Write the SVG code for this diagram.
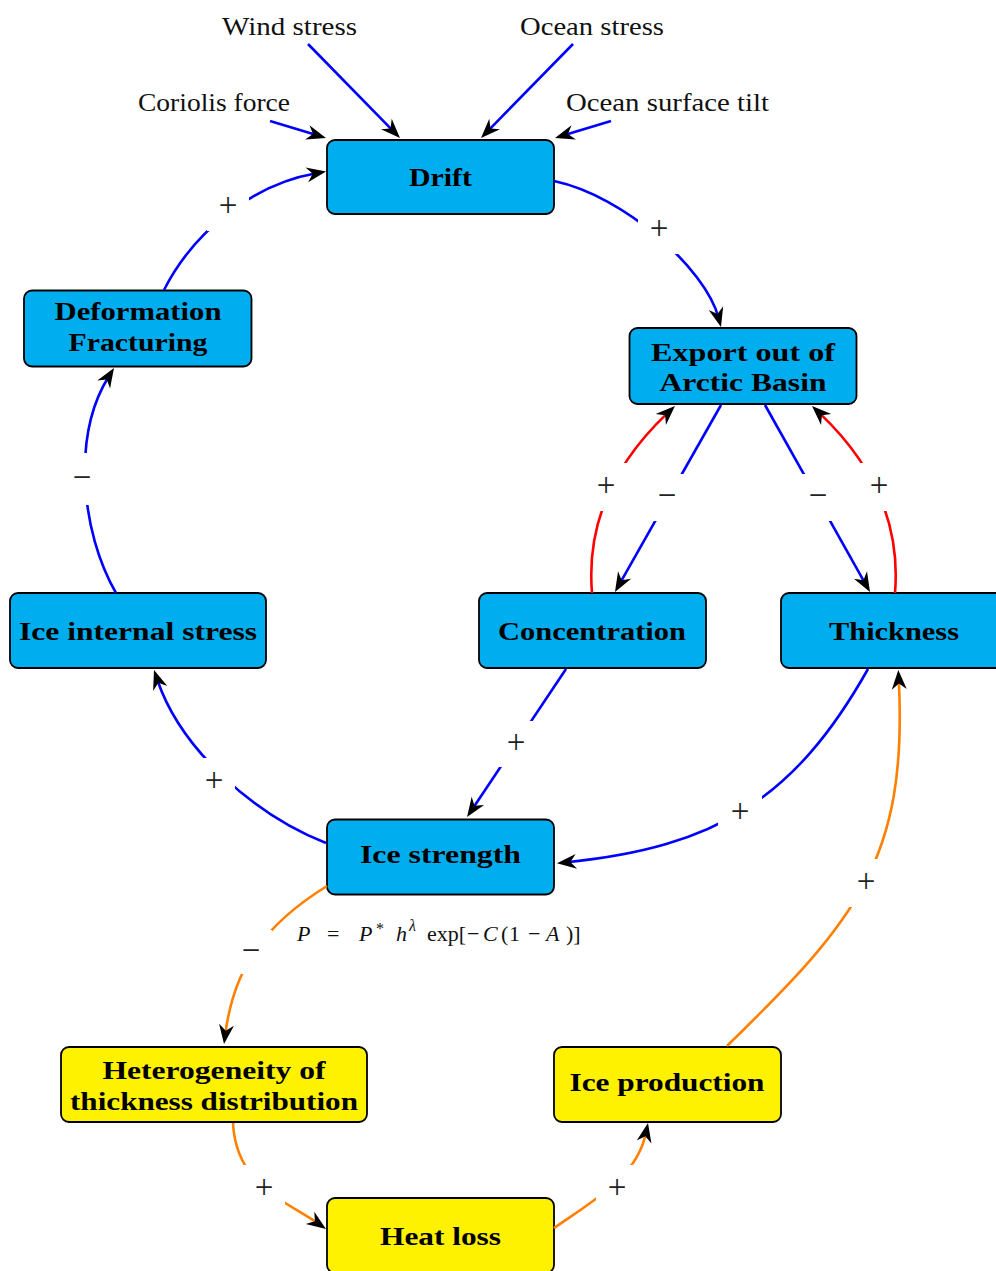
<svg xmlns="http://www.w3.org/2000/svg" width="996" height="1271" viewBox="0 0 996 1271">
<style>
.nd rect{stroke:#000;stroke-width:1.8}
.cy{fill:#00AEEF}
.ye{fill:#FFF200}
.nt{font-family:"Liberation Serif",serif;font-weight:bold;font-size:26px;text-anchor:middle;fill:#000}
.lb{font-family:"Liberation Serif",serif;font-size:25px;text-anchor:middle;fill:#111}
.sg{font-family:"Liberation Serif",serif;font-size:33px;text-anchor:middle;fill:#222}
.sgbg{fill:#fff}
.f{font-family:"Liberation Serif",serif;font-size:22px;fill:#111}
.e{fill:none;stroke-width:2.6}
.b{stroke:#0000FF}
.r{stroke:#FF0000}
.o{stroke:#FF8000}
.a{marker-end:url(#ah)}
</style>
<defs>
<marker id="ah" markerUnits="userSpaceOnUse" markerWidth="40" markerHeight="40" refX="0" refY="0" orient="auto" style="overflow:visible">
<path d="M10,0 L-9.5,-7.5 L-3.5,0 L-9.5,7.5 Z" fill="#000"/>
</marker>
</defs>
<rect width="996" height="1271" fill="#fff"/>

<g id="nodes">
<g id="drift" class="nd"><rect class="cy" x="327" y="140" width="227" height="74" rx="8"/><text class="nt" x="440.5" y="185.5" textLength="63" lengthAdjust="spacingAndGlyphs">Drift</text></g>
<g id="export" class="nd"><rect class="cy" x="629.5" y="328" width="227" height="76" rx="8"/><text class="nt" x="743" y="361" textLength="184" lengthAdjust="spacingAndGlyphs">Export out of</text><text class="nt" x="743" y="391" textLength="167" lengthAdjust="spacingAndGlyphs">Arctic Basin</text></g>
<g id="deformation" class="nd"><rect class="cy" x="24" y="290.5" width="227.5" height="76" rx="8"/><text class="nt" x="138" y="320" textLength="167" lengthAdjust="spacingAndGlyphs">Deformation</text><text class="nt" x="138" y="351" textLength="139" lengthAdjust="spacingAndGlyphs">Fracturing</text></g>
<g id="internal" class="nd"><rect class="cy" x="10" y="593" width="256" height="75" rx="8"/><text class="nt" x="138" y="639.5" textLength="238" lengthAdjust="spacingAndGlyphs">Ice internal stress</text></g>
<g id="concentration" class="nd"><rect class="cy" x="479" y="593" width="227" height="75" rx="8"/><text class="nt" x="592" y="639.5" textLength="188" lengthAdjust="spacingAndGlyphs">Concentration</text></g>
<g id="thickness" class="nd"><rect class="cy" x="781" y="593" width="227" height="75" rx="8"/><text class="nt" x="894" y="639.5" textLength="130" lengthAdjust="spacingAndGlyphs">Thickness</text></g>
<g id="strength" class="nd"><rect class="cy" x="327" y="819.5" width="227" height="75" rx="8"/><text class="nt" x="440.5" y="863" textLength="161" lengthAdjust="spacingAndGlyphs">Ice strength</text></g>
<g id="heterogeneity" class="nd"><rect class="ye" x="61" y="1047" width="306" height="75" rx="8"/><text class="nt" x="214" y="1079" textLength="223" lengthAdjust="spacingAndGlyphs">Heterogeneity of</text><text class="nt" x="214" y="1110" textLength="288" lengthAdjust="spacingAndGlyphs">thickness distribution</text></g>
<g id="production" class="nd"><rect class="ye" x="554" y="1047" width="227" height="75" rx="8"/><text class="nt" x="667" y="1090.5" textLength="195" lengthAdjust="spacingAndGlyphs">Ice production</text></g>
<g id="heatloss" class="nd"><rect class="ye" x="327" y="1198" width="227" height="75" rx="8"/><text class="nt" x="440.5" y="1245" textLength="121" lengthAdjust="spacingAndGlyphs">Heat loss</text></g>
<g id="wind"><text class="lb" x="289.5" y="35" textLength="135" lengthAdjust="spacingAndGlyphs">Wind stress</text></g>
<g id="ocean"><text class="lb" x="592" y="35" textLength="144" lengthAdjust="spacingAndGlyphs">Ocean stress</text></g>
<g id="coriolis"><text class="lb" x="214" y="111" textLength="152" lengthAdjust="spacingAndGlyphs">Coriolis force</text></g>
<g id="tilt"><text class="lb" x="667.5" y="111" textLength="203" lengthAdjust="spacingAndGlyphs">Ocean surface tilt</text></g>
</g>

<g id="connectors">
<path class="e b a" d="M308,44 L393,130.9"/>
<path class="e b a" d="M573,44 L488,130.9"/>
<path class="e b a" d="M270,121 L316.4,135.1"/>
<path class="e b a" d="M611,121 L564.6,135.1"/>
<path class="e b a" d="M554,181 C625,196 705.4,269 718.4,317.3"/>
<path class="e b a" d="M164,290 C193.3,232.1 252.2,184.3 316.2,173.2"/>
<path class="e b a" d="M116,593 C81,532 71.6,436 108.7,376.5"/>
<path class="e b a" d="M326,843 C256.3,816 181.2,750.7 157.2,679.5"/>
<path class="e b a" d="M721,405 L619.9,583.3"/>
<path class="e r a" d="M592,593 C586,520 616.6,461.2 667.7,412.9"/>
<path class="e b a" d="M765,405 L865.1,583.3"/>
<path class="e r a" d="M895,593 C901,520 870.4,461.2 819.3,412.9"/>
<path class="e b a" d="M566,669 L472.6,808.7"/>
<path class="e b a" d="M868,669 C794.5,799.5 715.4,847.3 566.9,862.3"/>
<path class="e o a" d="M327,886 C267.5,922.8 234.3,964.7 225.3,1034.1"/>
<path class="e o a" d="M233,1123 C236,1185 285,1200.5 317.8,1223.3"/>
<path class="e o a" d="M554,1228 C595,1199.5 637,1176.9 646,1132.8"/>
<path class="e o a" d="M727,1046 C855.7,920.2 907.8,860 898.8,680"/>
</g>

<g id="signs">
<rect class="sgbg" x="638" y="206" width="42" height="48"/><text class="sg" x="659" y="238.5">+</text>
<rect class="sgbg" x="207" y="183" width="42" height="48"/><text class="sg" x="228" y="215.5">+</text>
<rect class="sgbg" x="61" y="453" width="42" height="52"/><text class="sg" x="82" y="487.5">−</text>
<rect class="sgbg" x="585" y="463" width="42" height="48"/><text class="sg" x="606" y="495.5">+</text>
<rect class="sgbg" x="646" y="474" width="42" height="47"/><text class="sg" x="667" y="505.5">−</text>
<rect class="sgbg" x="797" y="474" width="42" height="47"/><text class="sg" x="818" y="505.5">−</text>
<rect class="sgbg" x="858" y="463" width="42" height="48"/><text class="sg" x="879" y="495.5">+</text>
<rect class="sgbg" x="495" y="721" width="42" height="46"/><text class="sg" x="516" y="752.5">+</text>
<rect class="sgbg" x="718" y="790" width="44" height="46"/><text class="sg" x="740" y="821.5">+</text>
<rect class="sgbg" x="193" y="758" width="42" height="48"/><text class="sg" x="214" y="790.5">+</text>
<rect class="sgbg" x="230" y="930" width="42" height="44"/><text class="sg" x="251" y="960.5">−</text>
<rect class="sgbg" x="243" y="1165" width="42" height="48"/><text class="sg" x="264" y="1197.5">+</text>
<rect class="sgbg" x="596" y="1165" width="42" height="48"/><text class="sg" x="617" y="1197.5">+</text>
<rect class="sgbg" x="845" y="859" width="42" height="48"/><text class="sg" x="866" y="891.5">+</text>
</g>

<g id="formula">
<text class="f" y="941"><tspan x="297" font-style="italic">P</tspan><tspan x="327">=</tspan><tspan x="359" font-style="italic">P</tspan><tspan x="376" y="934" font-size="16">*</tspan><tspan x="396" y="941" font-style="italic">h</tspan><tspan x="409" y="931" font-size="16" font-style="italic">λ</tspan><tspan x="427" y="941">exp[</tspan><tspan x="467">−</tspan><tspan x="483" font-style="italic">C</tspan><tspan x="501">(</tspan><tspan x="509">1</tspan><tspan x="528">−</tspan><tspan x="546" font-style="italic">A</tspan><tspan x="566">)]</tspan></text>
</g>
</svg>
